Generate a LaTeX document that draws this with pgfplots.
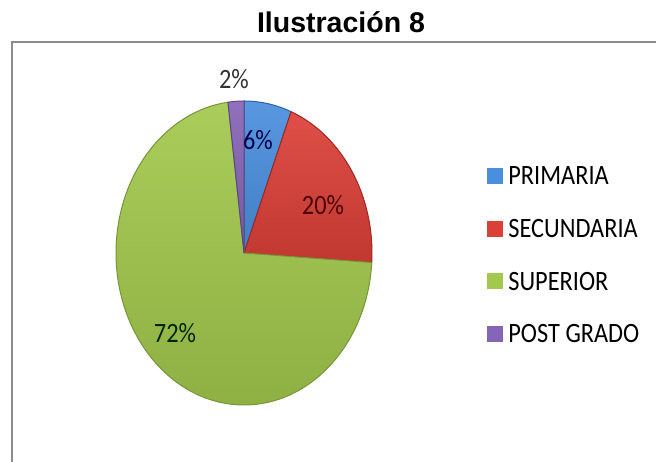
\documentclass[border=0pt]{standalone}
\usepackage{fontspec}
\setmainfont{Carlito}
\newfontfamily\arialfont{Liberation Sans}
\usepackage{graphicx}
\usepackage{pgfplots}
\usepackage{pgfplotstable}
\pgfplotsset{compat=1.18}
\definecolor{cblue}{HTML}{4A8FDE}
\definecolor{eblue}{HTML}{2C62A8}
\definecolor{cred}{HTML}{DB4038}
\definecolor{ered}{HTML}{A02822}
\definecolor{cgreen}{HTML}{A2C84C}
\definecolor{egreen}{HTML}{76963A}
\definecolor{cpurple}{HTML}{8565B5}
\definecolor{epurple}{HTML}{5E4588}
\definecolor{framegray}{HTML}{8C8C8C}

\pgfplotstableread[col sep=comma]{
label,value,color,edge
PRIMARIA,6,cblue,eblue
SECUNDARIA,20,cred,ered
SUPERIOR,72,cgreen,egreen
POST GRADO,2,cpurple,epurple
}\piedata

\newcommand\lbl[1]{\scalebox{0.87}[1]{#1}}

\begin{document}
\begin{tikzpicture}
\begin{axis}[
  scale only axis, width=656pt, height=462pt,
  xmin=0, xmax=656, ymin=0, ymax=462,
  hide axis, clip=false,
  legend cell align=left,
  legend style={at={(axis cs:487,295)}, anchor=north west, draw=none, fill=none,
    inner sep=0pt, outer sep=0pt, row sep=33pt, column sep=6pt,
    font=\fontsize{28}{32}\selectfont, nodes={inner sep=0pt}},
]
% frame
\draw[framegray, line width=2pt] (axis cs:12,-10) -- (axis cs:12,420) -- (axis cs:680,420);
% pie wedges
\pgfmathsetmacro\startang{90}
\pgfplotsforeachungrouped \i in {0,...,3}{%
  \pgfplotstablegetelem{\i}{value}\of\piedata \let\val\pgfplotsretval
  \pgfplotstablegetelem{\i}{color}\of\piedata \let\col\pgfplotsretval
  \pgfplotstablegetelem{\i}{edge}\of\piedata \let\edg\pgfplotsretval
  \pgfmathsetmacro\endang{\startang - 3.6*\val}%
  \edef\temp{\noexpand\shadedraw[top color=\col!92!white, bottom color=\col!88!black, draw=\edg, line width=1pt, line join=round]
    (axis cs:244,209) -- ++(\startang:128pt and 152pt)
    arc[start angle=\startang, end angle=\endang, x radius=128pt, y radius=152pt] -- cycle;}%
  \temp
  \global\let\startang\endang
}
% data labels
\node[font=\fontsize{28}{32}\selectfont, text=black!80] at (axis cs:234,383) {\lbl{2\%}};
\node[font=\fontsize{28}{32}\selectfont, text=black!70!blue] at (axis cs:258,322) {\lbl{6\%}};
\node[font=\fontsize{28}{32}\selectfont, text=black!70!red] at (axis cs:323,257) {\lbl{20\%}};
\node[font=\fontsize{28}{32}\selectfont, text=black!85!green] at (axis cs:175,129) {\lbl{72\%}};
% title
\node[font=\arialfont\bfseries\fontsize{28.5}{34}\selectfont, anchor=base] at (axis cs:341,429) {Ilustración 8};
% legend
\addlegendimage{legend image code/.code={\fill[cblue] (0pt,-6.5pt) rectangle (15pt,8.5pt);}}
\addlegendentry{\lbl{PRIMARIA}}
\addlegendimage{legend image code/.code={\fill[cred] (0pt,-6.5pt) rectangle (15pt,8.5pt);}}
\addlegendentry{\lbl{SECUNDARIA}}
\addlegendimage{legend image code/.code={\fill[cgreen] (0pt,-6.5pt) rectangle (15pt,8.5pt);}}
\addlegendentry{\lbl{SUPERIOR}}
\addlegendimage{legend image code/.code={\fill[cpurple] (0pt,-6.5pt) rectangle (15pt,8.5pt);}}
\addlegendentry{\lbl{POST GRADO}}
\end{axis}
\pgfresetboundingbox
\path[use as bounding box] (0,0) rectangle (656pt,462pt);
\end{tikzpicture}
\end{document}
